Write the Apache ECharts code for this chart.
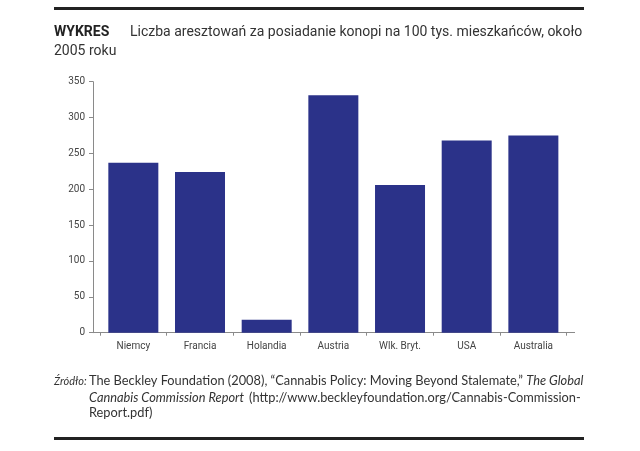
<!DOCTYPE html>
<html>
<head>
<meta charset="utf-8">
<script src="https://cdn.jsdelivr.net/npm/echarts@6/dist/echarts.min.js"></script>
<style>
html,body{margin:0;padding:0;background:#fff;}
#chart{width:640px;height:451px;}
</style>
</head>
<body>
<div id="chart"></div>
<script>
const categories = ["Niemcy", "Francia", "Holandia", "Austria", "Wlk. Bryt.", "USA", "Australia"];
const arrests = [237, 224, 18, 331, 206, 268, 275];
const yTicks = [0, 50, 100, 150, 200, 250, 300, 350];

const titleFont = "'Liberation Sans Narrow', 'Roboto', 'Liberation Sans', sans-serif";
const srcFont = "'Lato', 'Open Sans', sans-serif";
const SRC = 12.8;

function srcRich(size) {
  return {
    n: { fontFamily: srcFont, fontSize: size, fontWeight: 'normal', color: '#333', lineHeight: 16 },
    i: { fontFamily: srcFont, fontStyle: 'italic', fontWeight: 'normal', fontSize: size, color: '#333', lineHeight: 16 }
  };
}

const chart = echarts.init(document.getElementById('chart'), null, {renderer: 'canvas'});

const option = {
  backgroundColor: '#ffffff',
  animation: false,
  title: [
    { text: 'WYKRES', left: 54, top: 24, padding: 0,
      textStyle: { fontFamily: titleFont, fontSize: 14, fontWeight: 'bold', color: '#222', lineHeight: 16 } },
    { text: 'Liczba aresztowań za posiadanie konopi na 100 tys. mieszkańców, około', left: 130, top: 24, padding: 0,
      textStyle: { fontFamily: titleFont, fontSize: 14, fontWeight: 'normal', color: '#333', lineHeight: 16 } },
    { text: '2005 roku', left: 54, top: 43, padding: 0,
      textStyle: { fontFamily: titleFont, fontSize: 14, fontWeight: 'normal', color: '#333', lineHeight: 16 } },
    { text: '{i|Źródło:}', left: 54, top: 373, padding: 0,
      textStyle: { rich: srcRich(11) } },
    { text: '{n|The Beckley Foundation (2008), “Cannabis Policy: Moving Beyond Stalemate,” }{i|The Global}', left: 89, top: 373, padding: 0,
      textStyle: { rich: srcRich(SRC) } },
    { text: '{i|Cannabis Commission Report} {n|(http://www.beckleyfoundation.org/Cannabis-Commission-}', left: 89, top: 389, padding: 0,
      textStyle: { rich: srcRich(SRC) } },
    { text: '{n|Report.pdf)}', left: 89, top: 405, padding: 0,
      textStyle: { rich: srcRich(SRC) } }
  ],
  graphic: [
    { type: 'rect', shape: { x: 54, y: 7, width: 530, height: 3 }, style: { fill: '#222' } },
    { type: 'rect', shape: { x: 54, y: 437, width: 530, height: 3 }, style: { fill: '#222' } },
    { type: 'line', shape: { x1: 93, y1: 332.5, x2: 100, y2: 332.5 }, style: { stroke: '#8a8a8a', lineWidth: 1 } },
    { type: 'line', shape: { x1: 566, y1: 332.5, x2: 575, y2: 332.5 }, style: { stroke: '#8a8a8a', lineWidth: 1 } }
  ],
  grid: { left: 100, right: 73.3, top: 81.7, bottom: 118.3, containLabel: false },
  xAxis: {
    type: 'category',
    data: categories,
    axisLine: { show: true, lineStyle: { color: '#8a8a8a', width: 1 } },
    axisTick: { show: true, length: 3, lineStyle: { color: '#8a8a8a' } },
    axisLabel: { color: '#444', fontFamily: titleFont, fontSize: 10, margin: 9 }
  },
  yAxis: {
    type: 'value',
    min: yTicks[0],
    max: yTicks[yTicks.length - 1],
    interval: 50,
    offset: 7,
    axisLine: { show: true, lineStyle: { color: '#8a8a8a', width: 1 } },
    axisTick: { show: true, length: 4, lineStyle: { color: '#8a8a8a' } },
    axisLabel: { color: '#444', fontFamily: titleFont, fontSize: 10, margin: 8 },
    splitLine: { show: false }
  },
  series: [{
    type: 'bar',
    data: arrests,
    barWidth: 50,
    itemStyle: { color: '#2b3289' }
  }]
};
chart.setOption(option);
</script>
</body>
</html>
